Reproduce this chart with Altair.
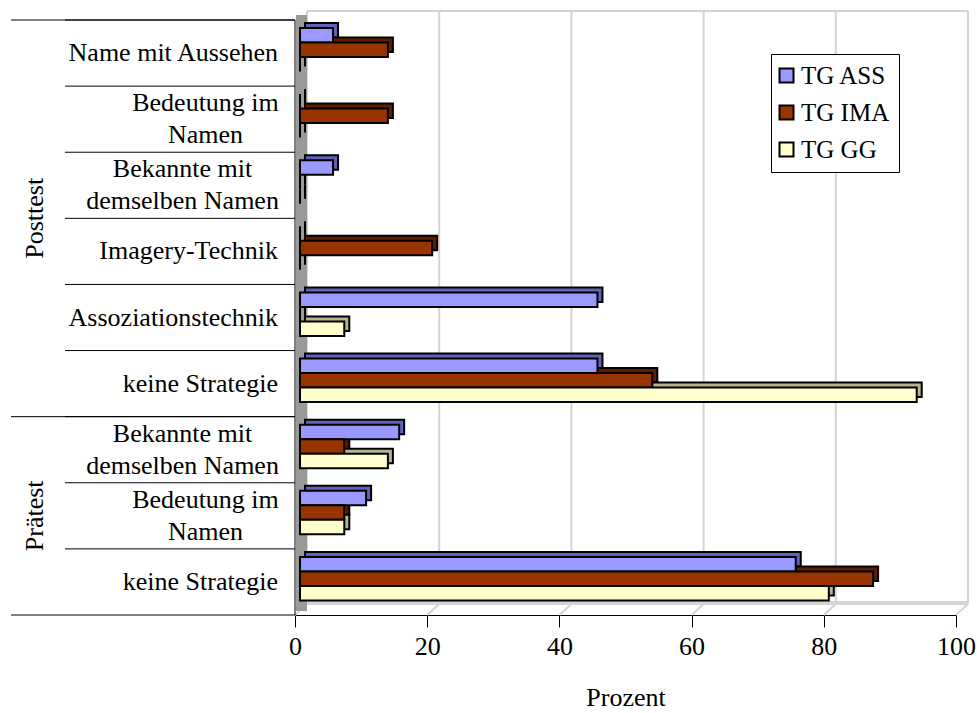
import altair as alt
import pandas as pd

# Strategy categories, top to bottom, per test phase
post_cats = ["Name mit Aussehen", "Bedeutung im Namen", "Bekannte mit demselben Namen",
             "Imagery-Technik", "Assoziationstechnik", "keine Strategie"]
pre_cats = ["Bekannte mit demselben Namen", "Bedeutung im Namen", "keine Strategie"]

# Wrapped category labels
label_text = {
    "Name mit Aussehen": "Name mit Aussehen",
    "Bedeutung im Namen": "Bedeutung im\nNamen",
    "Bekannte mit demselben Namen": "Bekannte mit\ndemselben Namen",
    "Imagery-Technik": "Imagery-Technik",
    "Assoziationstechnik": "Assoziationstechnik",
    "keine Strategie": "keine Strategie",
}

series = ["TG ASS", "TG IMA", "TG GG"]

# Percentages per group
ass_post = [5.0, 0.0, 5.0, 0.0, 45.0, 45.0]
ima_post = [13.3, 13.3, 0.0, 20.0, 0.0, 53.3]
gg_post = [0.0, 0.0, 0.0, 0.0, 6.7, 93.3]
ass_pre = [15.0, 10.0, 75.0]
ima_pre = [6.7, 6.7, 86.7]
gg_pre = [13.3, 6.7, 80.0]

face_colors = ["#9999FF", "#993300", "#FFFFCC"]
edge_colors = ["#6262B8", "#5E1E00", "#B4B48E"]

W, H = 661, 595
BAND = H / 9
DEPTH = 5
FONT = 26

keys = [f"Posttest|{c}" for c in post_cats] + [f"Prätest|{c}" for c in pre_cats]

rows = []
for phase, cats, vals in [("Posttest", post_cats, [ass_post, ima_post, gg_post]),
                          ("Prätest", pre_cats, [ass_pre, ima_pre, gg_pre])]:
    for i, c in enumerate(cats):
        for s, v in zip(series, vals):
            rows.append({"key": f"{phase}|{c}", "series": s, "value": v[i]})
bars = pd.DataFrame(rows)

cats_df = pd.DataFrame({"key": keys,
                        "cat": [k.split("|", 1)[1] for k in keys],
                        "label": [label_text[k.split("|", 1)[1]] for k in keys]})

y_enc = alt.Y("key:N", sort=keys, axis=None,
              scale=alt.Scale(domain=keys, paddingInner=0, paddingOuter=0))
color_scale = alt.Scale(domain=series, range=face_colors)
edge_scale = alt.Scale(domain=series, range=edge_colors)
x_scale = alt.Scale(domain=[0, 100], nice=False, zero=True)

base = alt.Chart(bars)

# 3D bars: a shifted darker body behind each front face
back = base.mark_bar(stroke="black", strokeWidth=2,
                     xOffset=DEPTH * 2, x2Offset=DEPTH * 2).encode(
    x=alt.X("value:Q", scale=x_scale),
    x2=alt.X2(datum=0),
    y=y_enc,
    yOffset=alt.YOffset("series:N", sort=series,
                        scale=alt.Scale(domain=series, paddingInner=0, paddingOuter=0.78,
                                        align=0.354, range=[-DEPTH, BAND - DEPTH])),
    fill=alt.Fill("series:N", scale=edge_scale, legend=None),
)

front = base.mark_bar(stroke="black", strokeWidth=2, xOffset=DEPTH, x2Offset=DEPTH).encode(
    x=alt.X("value:Q", scale=x_scale,
            axis=alt.Axis(values=[0, 20, 40, 60, 80, 100], grid=False, tickSize=12,
                          tickColor="black", domainColor="black", labelColor="black",
                          labelFontSize=FONT, labelPadding=6, labelFlush=False,
                          title="Prozent", titleFontSize=FONT, titleFontWeight="normal",
                          titleColor="black", titlePadding=25)),
    x2=alt.X2(datum=0),
    y=y_enc,
    yOffset=alt.YOffset("series:N", sort=series,
                        scale=alt.Scale(domain=series, paddingInner=0, paddingOuter=0.78,
                                        align=0.354)),
    fill=alt.Fill("series:N", scale=color_scale, sort=series,
                  legend=alt.Legend(title=None, orient="none", legendX=476, legendY=34,
                                    symbolType="square", symbolSize=196, symbolOffset=-6,
                                    symbolStrokeColor="black", symbolStrokeWidth=2,
                                    labelFontSize=25, labelColor="black", labelOffset=2,
                                    rowPadding=11, padding=9, strokeColor="black",
                                    fillColor="white")),
)

# Back wall grid lines and floor edges
ticks_df = pd.DataFrame({"v": [0, 20, 40, 60, 80, 100]})
grid = alt.Chart(ticks_df).mark_rule(color="#d4d4d4", strokeWidth=2, xOffset=12).encode(
    x=alt.X("v:Q", scale=x_scale), y=alt.value(-9), y2=alt.value(H - 11))
floor_diag = alt.Chart(ticks_df).mark_rule(color="#d4d4d4", strokeWidth=2, x2Offset=12).encode(
    x=alt.X("v:Q", scale=x_scale), x2="v:Q", y=alt.value(H), y2=alt.value(H - 11))
edge_df = pd.DataFrame({"a": [0], "b": [100]})
back_top = alt.Chart(edge_df).mark_rule(color="#d4d4d4", strokeWidth=2, xOffset=12, x2Offset=12).encode(
    x=alt.X("a:Q", scale=x_scale), x2="b:Q", y=alt.value(-9))
back_floor = alt.Chart(edge_df).mark_rule(color="#d4d4d4", strokeWidth=4, xOffset=12, x2Offset=12).encode(
    x=alt.X("a:Q", scale=x_scale), x2="b:Q", y=alt.value(H - 12))
side_wall = alt.Chart(edge_df).mark_rect(color="#9a9a9a").encode(
    x=alt.value(1), x2=alt.value(12), y=alt.value(-5), y2=alt.value(H - 4))

# Left label panel: dividers, category labels, phase labels
inner_div = alt.Chart(cats_df).mark_rule(color="black", strokeWidth=1).encode(
    y=alt.Y("key:N", sort=keys, bandPosition=0), x=alt.value(-230), x2=alt.value(0))
phase_first = pd.DataFrame({"key": [keys[0], keys[6]]})
outer_div = alt.Chart(phase_first).mark_rule(color="black", strokeWidth=1).encode(
    y=alt.Y("key:N", sort=keys, bandPosition=0), x=alt.value(-284), x2=alt.value(0))
bottom_line = alt.Chart(pd.DataFrame({"key": [keys[-1]]})).mark_rule(color="black", strokeWidth=1).encode(
    y=alt.Y("key:N", sort=keys, bandPosition=1), x=alt.value(-284), x2=alt.value(0))
axis_line = alt.Chart(edge_df).mark_rule(color="black", strokeWidth=1).encode(
    x=alt.value(0), y=alt.value(0), y2=alt.value(H))

one_line = alt.Chart(cats_df).transform_filter("indexof(datum.label, '\\n') < 0").mark_text(
    align="right", baseline="middle", fontSize=FONT, color="black").encode(
    y=alt.Y("key:N", sort=keys), x=alt.value(-17), text="label:N")


def wrapped(cat, centre_x):
    # two-line label, lines centred on each other, block right-aligned to the panel
    return alt.Chart(cats_df).transform_filter(alt.datum.cat == cat).mark_text(
        align="center", baseline="middle", fontSize=FONT, lineBreak="\n", lineHeight=32,
        color="black", dy=-16).encode(
        y=alt.Y("key:N", sort=keys), x=alt.value(centre_x), text="label:N")


wrap_bed = wrapped("Bedeutung im Namen", -89.5)
wrap_bek = wrapped("Bekannte mit demselben Namen", -112.5)

post_label = alt.Chart(pd.DataFrame({"key": [keys[3]], "t": ["Posttest"]})).mark_text(
    angle=270, fontSize=FONT, color="black", align="center", baseline="middle").encode(
    y=alt.Y("key:N", sort=keys, bandPosition=0), x=alt.value(-260), text="t:N")
pre_label = alt.Chart(pd.DataFrame({"key": [keys[7]], "t": ["Prätest"]})).mark_text(
    angle=270, fontSize=FONT, color="black", align="center", baseline="middle").encode(
    y=alt.Y("key:N", sort=keys, bandPosition=0.5), x=alt.value(-260), text="t:N")

chart = alt.layer(
    back_top, grid, back_floor, floor_diag, side_wall,
    back, front,
    inner_div, outer_div, bottom_line, axis_line,
    one_line, wrap_bed, wrap_bek, post_label, pre_label,
).resolve_scale(yOffset="independent", fill="independent").properties(
    width=W, height=H,
    autosize=alt.AutoSizeParams(type="none"),
    padding={"left": 295, "top": 20, "right": 21, "bottom": 98},
).configure(font="Liberation Serif").configure_view(stroke=None)

chart.save("out.html", embed_options={"renderer": "svg", "actions": False})
